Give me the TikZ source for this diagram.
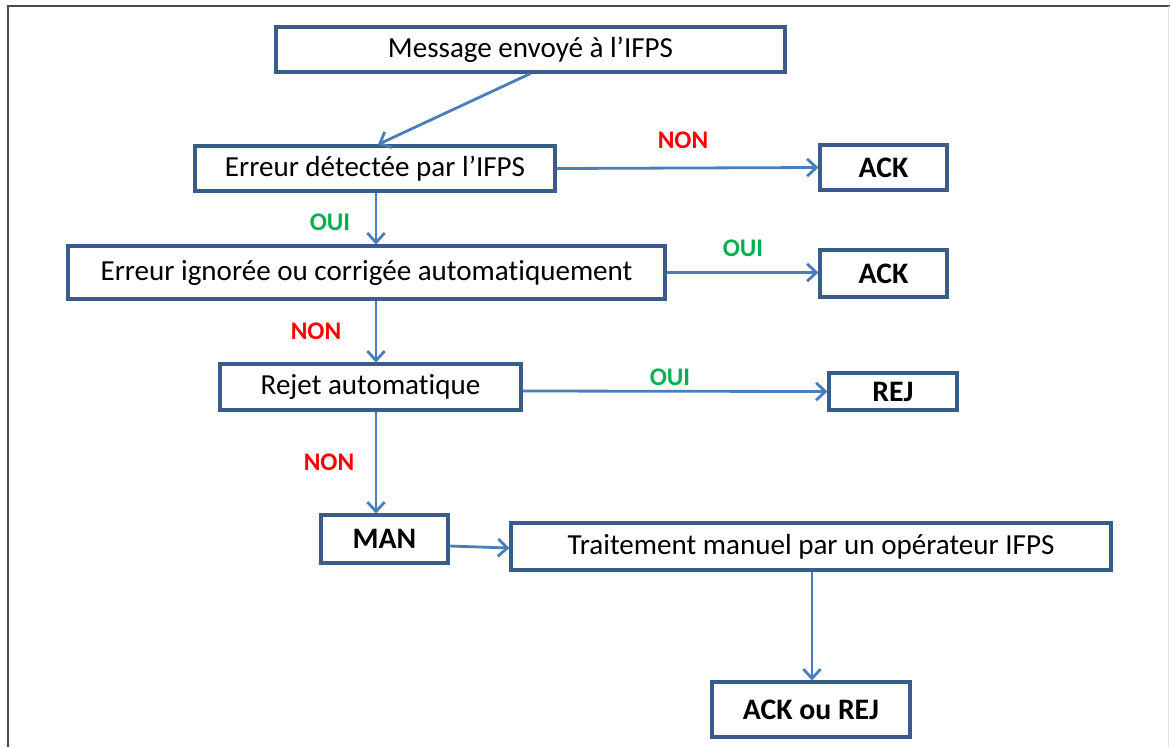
\documentclass[tikz,border=0pt]{standalone}
\usepackage{fontspec}
\setmainfont{Carlito}[Ligatures=NoCommon]
\usetikzlibrary{arrows.meta}
\definecolor{boxblue}{HTML}{385D8A}
\definecolor{arrowblue}{HTML}{4A7EBB}
\definecolor{nonred}{HTML}{FF0000}
\definecolor{ouigreen}{HTML}{00B050}
\definecolor{framegray}{HTML}{4A4A4A}
\tikzset{
  box/.style={draw=boxblue, line width=2.3pt, fill=white, inner sep=0pt, text=black},
  plain/.style={box, font=\fontsize{21.8}{26}\selectfont},
  bold/.style={box, font=\fontsize{22.3}{26}\selectfont\bfseries},
  conn/.style={draw=arrowblue, line width=2.1pt, -{Straight Barb[length=7pt,width=13pt,line width=2.1pt]}},
  nonlbl/.style={text=nonred, font=\fontsize{19}{22}\selectfont\bfseries, inner sep=0pt},
  ouilbl/.style={text=ouigreen, font=\fontsize{19}{22}\selectfont\bfseries, inner sep=0pt}
}
\begin{document}
\begin{tikzpicture}[x=0.75pt,y=-0.75pt]
\useasboundingbox (0,0) rectangle (1170,747);
\fill[white] (0,0) rectangle (1170,747);
% frame
\draw[framegray, line width=1.8pt] (8,747) -- (8,6) -- (1170,6);
\draw[black!12, line width=0.75pt] (1168,6) -- (1168,747);

% boxes
\node[plain, minimum width=381.75pt, minimum height=33.75pt] (msg) at (530.5,49.5) {Message envoyé à l’IFPS};
\node[plain, minimum width=270pt, minimum height=33.75pt] (det) at (375,168.5) {Erreur détectée par l’IFPS};
\node[bold, minimum width=95.25pt, minimum height=33.75pt] (ack1) at (883.5,167.5) {ACK};
\node[plain, minimum width=447.75pt, minimum height=39.75pt] (ign) at (366.5,272.5) {Erreur ignorée ou corrigée automatiquement};
\node[bold, minimum width=95.25pt, minimum height=35.25pt] (ack2) at (883.5,273.5) {ACK};
\node[plain, minimum width=225.75pt, minimum height=34.5pt] (rej) at (370.5,387) {Rejet automatique};
\node[bold, minimum width=96pt, minimum height=27.75pt] (rejb) at (893,391.5) {REJ};
\node[bold, minimum width=95.25pt, minimum height=36pt] (man) at (384.5,539) {MAN\hspace{12pt}};
\node[plain, minimum width=450pt, minimum height=35.25pt] (trt) at (811,546.5) {Traitement manuel par un opérateur IFPS};
\node[bold, minimum width=148.5pt, minimum height=41.25pt] (fin) at (811,709.5) {ACK ou REJ};

% connectors
\draw[conn] (msg.south) -- (det.north -| 378,0);
\draw[conn] (det.east) -- (ack1.west);
\draw[conn] (det.south -| 376,0) -- (ign.north -| 376,0);
\draw[conn] (ign.east) -- (ack2.west |- ign.east);
\draw[conn] (ign.south -| 376,0) -- (rej.north -| 376,0);
\draw[conn] (rej.east |- 0,391) -- (rejb.west);
\draw[conn] (rej.south -| 376,0) -- (man.north -| 376,0);
\draw[conn] (man.east |- 0,546) -- (trt.west |- 0,548);
\draw[conn] (trt.south -| 812,0) -- (fin.north -| 812,0);

% labels
\node[nonlbl] (l1) at (683,140) {NON};
\node[ouilbl] (l2) at (330,222) {OUI};
\node[ouilbl] (l3) at (743,248) {OUI};
\node[nonlbl] (l4) at (316,331) {NON};
\node[ouilbl] (l5) at (670,377) {OUI};
\node[nonlbl] (l6) at (329,462) {NON};
\end{tikzpicture}
\end{document}
